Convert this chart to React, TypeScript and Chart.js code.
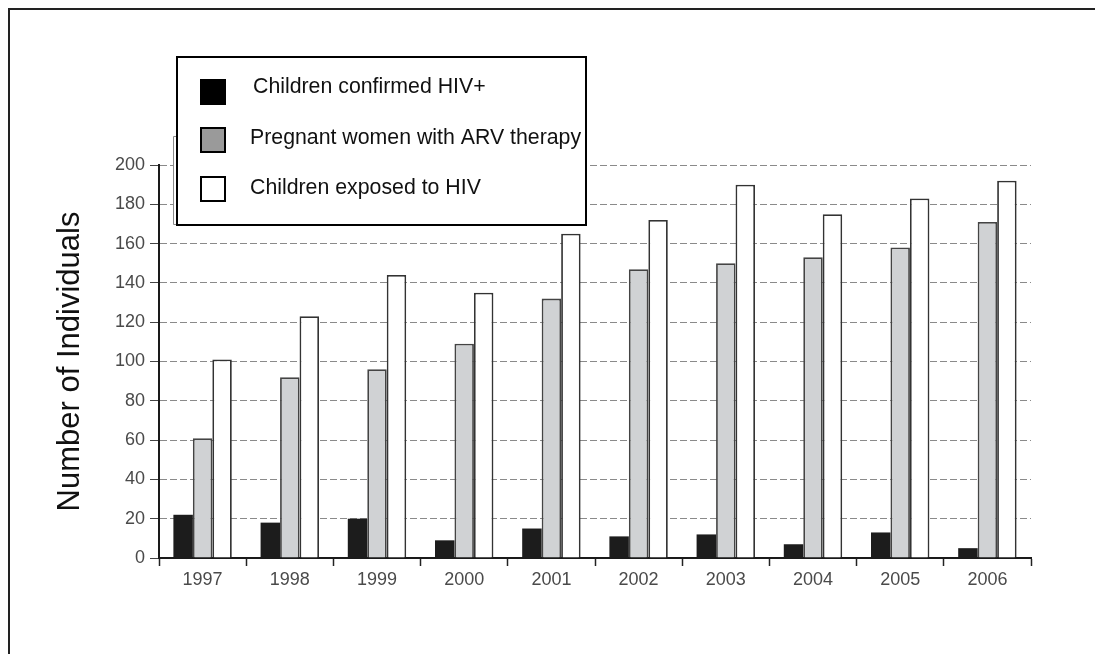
import React, { useEffect, useRef } from "react";
import { Chart, registerables } from "chart.js";

Chart.register(...registerables);

const categories = ["1997", "1998", "1999", "2000", "2001", "2002", "2003", "2004", "2005", "2006"];
const confirmedHIV = [22, 18, 20, 9, 15, 11, 12, 7, 13, 5];
const pregnantARV = [61, 92, 96, 109, 132, 147, 150, 153, 158, 171];
const exposedHIV = [101, 123, 144, 135, 165, 172, 190, 175, 183, 192];
const seriesLabels = ["Children confirmed HIV+", "Pregnant women with ARV therapy", "Children exposed to HIV"];
const legendSwatches = ["#000000", "#9a9a9a", "#ffffff"];
const yTitle = "Number of Individuals";
const yMin = 0;
const yMax = 200;
const yStep = 20;

const FONT = "'Liberation Sans', Arial, Helvetica, sans-serif";

const legendPlugin = {
  id: "boxLegend",
  afterDraw(chart: any) {
    const ctx = chart.ctx;
    ctx.save();
    // faint remnant box behind the legend
    ctx.fillStyle = "#ffffff";
    ctx.fillRect(165, 128, 10, 89);
    ctx.strokeStyle = "#8a8a8a";
    ctx.lineWidth = 1;
    ctx.beginPath();
    ctx.moveTo(172, 128.5);
    ctx.lineTo(165.5, 128.5);
    ctx.lineTo(165.5, 216.5);
    ctx.lineTo(172, 216.5);
    ctx.stroke();
    // legend box
    ctx.fillStyle = "#ffffff";
    ctx.fillRect(169, 49, 409, 168);
    ctx.strokeStyle = "#000000";
    ctx.lineWidth = 2;
    ctx.strokeRect(169, 49, 409, 168);
    const rowsY = [72, 120, 169];
    const textY = [79, 130, 180];
    const textX = [245, 242, 242];
    chart.data.datasets.forEach((ds: any, i: number) => {
      ctx.fillStyle = legendSwatches[i];
      ctx.fillRect(193, rowsY[i], 24, 24);
      ctx.strokeStyle = "#000";
      ctx.lineWidth = 2;
      ctx.strokeRect(193, rowsY[i], 24, 24);
      ctx.fillStyle = "#111";
      ctx.font = `21.3px ${FONT}`;
      ctx.textBaseline = "middle";
      ctx.textAlign = "left";
      ctx.fillText(ds.label, textX[i], textY[i]);
    });
    ctx.restore();
  },
};

export default function App() {
  const canvasRef = useRef<HTMLCanvasElement | null>(null);

  useEffect(() => {
    if (!canvasRef.current) return;
    const chart = new Chart(canvasRef.current, {
      type: "bar",
      data: {
        labels: categories,
        datasets: [
          {
            label: seriesLabels[0],
            data: confirmedHIV,
            backgroundColor: "#1c1c1c",
            borderColor: "#1c1c1c",
            borderWidth: 0,
          },
          {
            label: seriesLabels[1],
            data: pregnantARV,
            backgroundColor: "#d0d2d4",
            borderColor: "#444444",
            borderWidth: 1.8,
          },
          {
            label: seriesLabels[2],
            data: exposedHIV,
            backgroundColor: "#ffffff",
            borderColor: "#333333",
            borderWidth: 1.8,
          },
        ],
      },
      options: {
        animation: false,
        responsive: false,
        maintainAspectRatio: false,
        layout: { padding: { left: 0, top: 157, right: 72, bottom: 56 } },
        datasets: { bar: { categoryPercentage: 0.67, barPercentage: 1.0 } },
        plugins: {
          legend: { display: false },
          tooltip: { enabled: false },
          title: { display: false },
        },
        scales: {
          x: {
            offset: true,
            grid: {
              offset: true,
              drawOnChartArea: false,
              drawTicks: true,
              tickLength: 8,
              tickColor: "#222",
              tickWidth: 1.5,
            },
            border: { display: true, color: "#1a1a1a", width: 2 },
            ticks: {
              color: "#4a4a4a",
              font: { family: FONT, size: 18 },
              padding: 3,
              maxRotation: 0,
              autoSkip: false,
            },
            afterFit(scale: any) {
              scale.height = 40;
            },
          },
          y: {
            min: yMin,
            max: yMax,
            ticks: {
              stepSize: yStep,
              color: "#4a4a4a",
              font: { family: FONT, size: 18 },
              padding: 5,
            },
            grid: {
              color: "#8a8a8a",
              lineWidth: 1,
              tickLength: 9,
              tickColor: "#444",
              tickWidth: 1,
              tickBorderDash: [],
            },
            border: { display: true, color: "#1a1a1a", width: 2, dash: [7, 3] },
            title: {
              display: true,
              text: yTitle,
              color: "#111",
              font: { family: FONT, size: 31, weight: "normal" },
              padding: { top: 44, bottom: 0 },
            },
            afterFit(scale: any) {
              scale.width = 151;
            },
          },
        },
      },
      plugins: [legendPlugin],
    } as any);
    return () => chart.destroy();
  }, []);

  return (
    <div style={{ position: "relative", width: 1095, height: 646, background: "#fff" }}>
      <canvas
        ref={canvasRef}
        width={1095}
        height={646}
        style={{ position: "absolute", left: 0, top: 0, width: 1095, height: 646 }}
      />
      <div
        style={{
          position: "absolute",
          left: 0,
          top: 0,
          width: 1095,
          height: 646,
          borderTop: "2px solid #222",
          borderLeft: "2px solid #222",
          boxSizing: "border-box",
          pointerEvents: "none",
        }}
      />
    </div>
  );
}
